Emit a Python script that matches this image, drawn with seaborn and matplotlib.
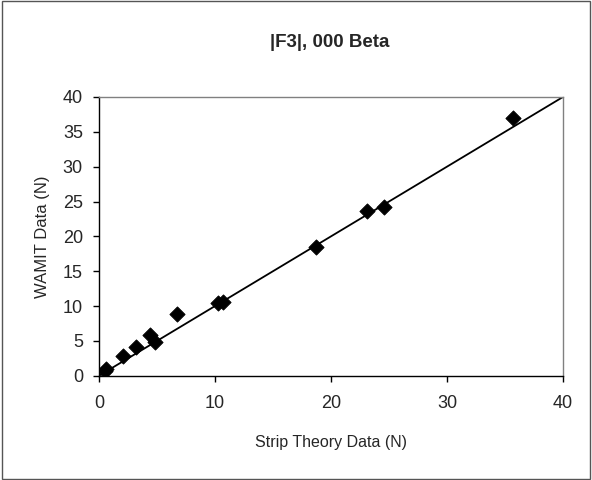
import numpy as np
import pandas as pd
import seaborn as sns
import matplotlib.pyplot as plt

# Values
strip_theory = [0.5, 0.6, 2.1, 3.2, 4.4, 4.8, 6.7, 10.3, 10.7, 18.7, 23.1, 24.6, 35.7]
wamit = [0.7, 1.0, 2.8, 4.2, 5.8, 4.9, 8.8, 10.4, 10.6, 18.5, 23.7, 24.2, 37.0]
line_x = [0, 40]
line_y = [0, 40]
ticks = [0, 5, 10, 15, 20, 25, 30, 35, 40]
xticks = [0, 10, 20, 30, 40]

df = pd.DataFrame({"strip": strip_theory, "wamit": wamit})

sns.set_style("white")
plt.rcParams['font.family'] = ['Liberation Sans', 'DejaVu Sans']

fig = plt.figure(figsize=(5.92, 4.8), dpi=100)
ax = fig.add_axes([0.167, 0.217, 0.784, 0.581])

ax.plot(line_x, line_y, color="black", linewidth=1.3, zorder=2)
sns.scatterplot(data=df, x="strip", y="wamit", marker="D", s=60, color="black",
                edgecolor="black", ax=ax, zorder=3)

ax.set_xlim(0, 40)
ax.set_ylim(0, 40)
ax.set_xticks(xticks)
ax.set_yticks(ticks)
ax.tick_params(axis="both", direction="out", length=4.5, width=1, color="black",
               labelsize=13, bottom=True, left=True)
ax.tick_params(axis="x", pad=9)
ax.tick_params(axis="y", pad=7)
ax.set_xlabel("Strip Theory Data (N)", fontsize=11.5, labelpad=17)
ax.set_ylabel("WAMIT Data (N)", fontsize=12, labelpad=9)
fig.text(0.557, 0.912, "|F3|, 000 Beta", fontsize=13.5, fontweight="bold",
         ha="center", va="center")

for side in ["left", "bottom"]:
    ax.spines[side].set_color("black")
    ax.spines[side].set_linewidth(1)
for side in ["top", "right"]:
    ax.spines[side].set_color("#808080")
    ax.spines[side].set_linewidth(1)

# Outer chart border
fig.patches.append(plt.Rectangle((0.003, 0.003), 0.994, 0.994, transform=fig.transFigure,
                                 fill=False, edgecolor="#555555", linewidth=1))

fig.savefig("out.png", dpi=100)
